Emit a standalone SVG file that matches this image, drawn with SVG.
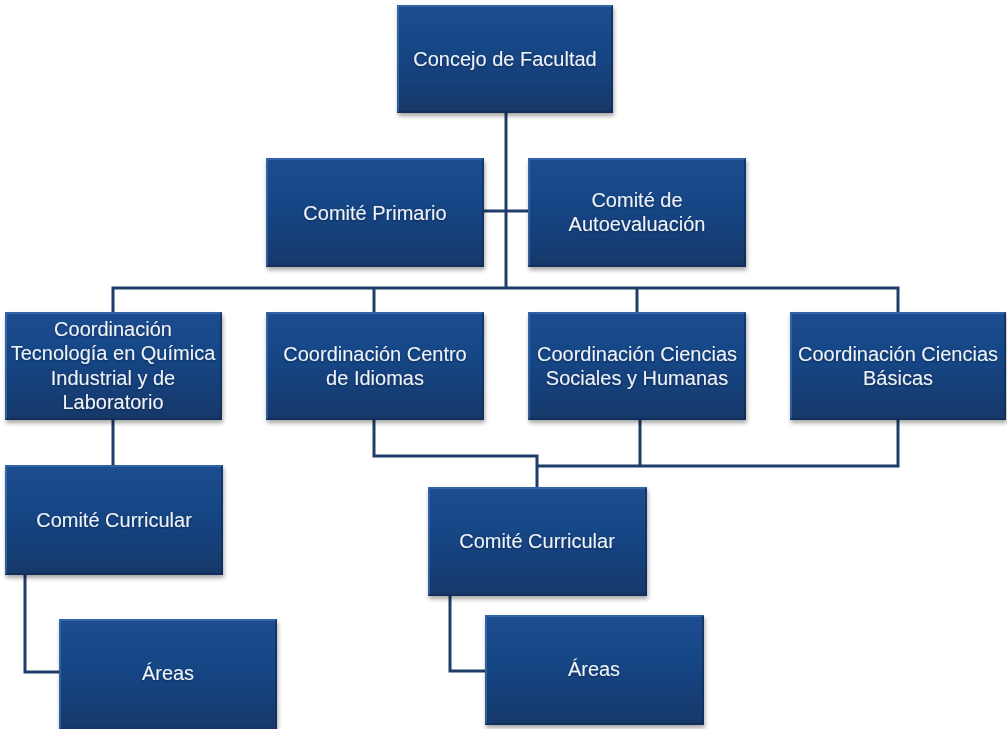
<svg xmlns="http://www.w3.org/2000/svg" width="1007" height="729" viewBox="0 0 1007 729">
<style>
.box{fill:url(#g);filter:url(#sh)}
.hi{fill:none;stroke:#3f74b8;stroke-width:2;opacity:0.6}
.lo{fill:none;stroke:#0f2a50;stroke-width:2;opacity:0.6}
.t{font-family:"Liberation Sans",Arial,sans-serif;font-size:20px;fill:#eef3fa;text-anchor:middle;filter:url(#tg)}
.c{fill:none;stroke:#1e3d69;stroke-width:3}
</style>
<defs>
<linearGradient id="g" x1="0" y1="0" x2="0" y2="1">
<stop offset="0" stop-color="#1b4d90"/>
<stop offset="0.5" stop-color="#184483"/>
<stop offset="1" stop-color="#143868"/>
</linearGradient>
<filter id="sh" x="-10%" y="-10%" width="125%" height="130%">
<feDropShadow dx="1" dy="3" stdDeviation="2" flood-color="#000" flood-opacity="0.35"/>
</filter>
<filter id="tg" x="-10%" y="-30%" width="120%" height="160%">
<feDropShadow dx="0" dy="1" stdDeviation="1" flood-color="#0a1a33" flood-opacity="0.6"/>
</filter>
</defs>
<rect width="1007" height="729" fill="#fff"/>
<g id="connectors">
<path class="c" d="M506 113V288"/>
<path class="c" d="M484 211H528"/>
<path class="c" d="M113 312V288H898V312"/>
<path class="c" d="M374 288V312"/>
<path class="c" d="M637 288V312"/>
<path class="c" d="M113 420V465"/>
<path class="c" d="M25 575V672H59"/>
<path class="c" d="M374 420V456H537V487"/>
<path class="c" d="M640 420V466"/>
<path class="c" d="M898 420V466H537"/>
<path class="c" d="M450 596V671H485"/>
</g>
<g id="n1">
<rect class="box" x="397" y="5" width="216" height="108"/>
<path class="hi" d="M398 112V6H612"/><path class="lo" d="M398 112H612V6"/>
<text class="t" x="505" y="66">Concejo de Facultad</text>
</g>
<g id="n2">
<rect class="box" x="266" y="158" width="218" height="109"/>
<path class="hi" d="M267 266V159H483"/><path class="lo" d="M267 266H483V159"/>
<text class="t" x="375" y="220">Comité Primario</text>
</g>
<g id="n3">
<rect class="box" x="528" y="158" width="218" height="109"/>
<path class="hi" d="M529 266V159H745"/><path class="lo" d="M529 266H745V159"/>
<text class="t" x="637" y="207">Comité de</text>
<text class="t" x="637" y="231">Autoevaluación</text>
</g>
<g id="n4">
<rect class="box" x="5" y="312" width="217" height="108"/>
<path class="hi" d="M6 419V313H221"/><path class="lo" d="M6 419H221V313"/>
<text class="t" x="113" y="336">Coordinación</text>
<text class="t" x="113" y="360">Tecnología en Química</text>
<text class="t" x="113" y="385">Industrial y de</text>
<text class="t" x="113" y="409">Laboratorio</text>
</g>
<g id="n5">
<rect class="box" x="266" y="312" width="218" height="108"/>
<path class="hi" d="M267 419V313H483"/><path class="lo" d="M267 419H483V313"/>
<text class="t" x="375" y="361">Coordinación Centro</text>
<text class="t" x="375" y="385">de Idiomas</text>
</g>
<g id="n6">
<rect class="box" x="528" y="312" width="218" height="108"/>
<path class="hi" d="M529 419V313H745"/><path class="lo" d="M529 419H745V313"/>
<text class="t" x="637" y="361">Coordinación Ciencias</text>
<text class="t" x="637" y="385">Sociales y Humanas</text>
</g>
<g id="n7">
<rect class="box" x="790" y="312" width="216" height="108"/>
<path class="hi" d="M791 419V313H1005"/><path class="lo" d="M791 419H1005V313"/>
<text class="t" x="898" y="361">Coordinación Ciencias</text>
<text class="t" x="898" y="385">Básicas</text>
</g>
<g id="n8">
<rect class="box" x="5" y="465" width="218" height="110"/>
<path class="hi" d="M6 574V466H222"/><path class="lo" d="M6 574H222V466"/>
<text class="t" x="114" y="527">Comité Curricular</text>
</g>
<g id="n9">
<rect class="box" x="59" y="619" width="218" height="112"/>
<path class="hi" d="M60 730V620H276"/><path class="lo" d="M276 620V730"/>
<text class="t" x="168" y="680">Áreas</text>
</g>
<g id="n10">
<rect class="box" x="428" y="487" width="219" height="109"/>
<path class="hi" d="M429 595V488H646"/><path class="lo" d="M429 595H646V488"/>
<text class="t" x="537" y="548">Comité Curricular</text>
</g>
<g id="n11">
<rect class="box" x="485" y="615" width="219" height="110"/>
<path class="hi" d="M486 724V616H703"/><path class="lo" d="M486 724H703V616"/>
<text class="t" x="594" y="676">Áreas</text>
</g>
</svg>
